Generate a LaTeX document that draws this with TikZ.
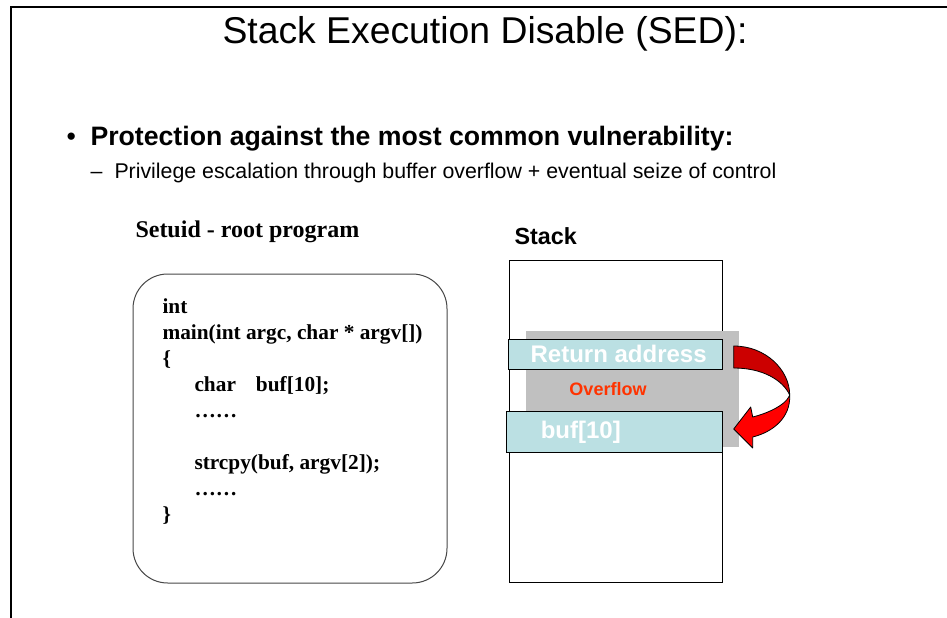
\documentclass[tikz,border=0pt]{standalone}
\usepackage{fontspec}
\setmainfont{Liberation Serif}
\setsansfont{Liberation Sans}
\definecolor{cellteal}{RGB}{187,224,227}
\definecolor{ovgray}{RGB}{192,192,192}
\definecolor{ovred}{RGB}{255,51,0}
\definecolor{arrdark}{RGB}{204,0,0}
\definecolor{arrlight}{RGB}{255,0,0}
\tikzset{every picture/.style={line width=0.75pt}}
\tikzset{
  codeline/.style={anchor=base west, inner sep=0pt, font=\bfseries\fontsize{16}{19}\selectfont},
  cell/.style={draw, fill=cellteal, minimum width=160.5pt, inner sep=0pt, line width=0.6pt},
  celltext/.style={inner sep=0pt, text=white, font=\sffamily\bfseries\fontsize{18}{21}\selectfont},
}

\begin{document}
\begin{tikzpicture}[x=0.75pt,y=0.75pt,yscale=-1,xscale=1]
	\useasboundingbox (0,0) rectangle (947,618);

	%Frame lines
	\draw [line width=1.1pt] (11,618) -- (11,7) -- (947,7) ;

	% Text Node
	\node [anchor=base, inner sep=0, font=\sffamily\fontsize{28}{34}\selectfont] (title) at (485,43) {Stack Execution Disable (SED):};
	% Text Node
	\node [anchor=base west, inner sep=0, font=\sffamily\fontsize{20}{24}\selectfont] (bullet) at (66,145) {\textbullet};
	\node [anchor=base west, inner sep=0, font=\sffamily\bfseries\fontsize{20}{24}\selectfont] (point) at (90,145) {Protection against the most common vulnerability:};
	% Text Node
	\node [anchor=base west, inner sep=0, font=\sffamily\fontsize{16}{19}\selectfont] (dash) at (90,178) {--};
	\node [anchor=base west, inner sep=0, font=\sffamily\fontsize{16}{19}\selectfont] (subpoint) at (114,178) {Privilege escalation through buffer overflow + eventual seize of control};

	% Text Node
	\node [anchor=base west, inner sep=0, font=\bfseries\fontsize{18}{21}\selectfont] (setuid) at (135,237) {Setuid - root program};
	% Text Node
	\node [anchor=base west, inner sep=0, font=\sffamily\bfseries\fontsize{17.5}{21}\selectfont] (stacklbl) at (514,244) {Stack};

	%Shape: Rounded Rect
	\node [draw={rgb, 255:red, 70; green, 70; blue, 70 }, rounded corners=26pt, minimum width=235.5pt, minimum height=231.75pt, inner sep=0] (prog) at (290,428.5) {};
	% Code lines
	\node [codeline] (c1) at (162,313) {int};
	\node [codeline] (c2) at (162,339) {main(int argc, char * argv[])};
	\node [codeline] (c3) at (162,365) {\{};
	\node [codeline] (c4) at (194,391) {char\hspace{15pt}buf[10];};
	\node [codeline] (c5) at (194,417) {\ldots\ldots};
	\node [codeline] (c6) at (194,469) {strcpy(buf, argv[2]);};
	\node [codeline] (c7) at (194,495) {\ldots\ldots};
	\node [codeline] (c8) at (162,521) {\}};

	%Shape: Stack
	\node [draw, minimum width=159.75pt, minimum height=241.5pt, inner sep=0, line width=0.6pt] (stack) at (615.5,421) {};
	%Shape: Overflow area
	\node [fill=ovgray, minimum width=159.75pt, minimum height=87pt, inner sep=0] (ovarea) at (632.5,388.5) {};
	%Shape: Return address
	\node [cell, minimum height=22.5pt, text=white, font=\sffamily\bfseries\fontsize{18}{21}\selectfont] (ret) at (615.3,354) {\hspace{5pt}Return address};
	%Shape: buf
	\node [cell, minimum width=161.7pt, minimum height=31pt] (buf) at (614.5,432) {};
	% Text Node
	\node [celltext, anchor=west] (buftxt) at ([xshift=25.5pt]buf.west) {buf[10]};
	% Text Node
	\node [inner sep=0, text=ovred, font=\sffamily\bfseries\fontsize{13.5}{16}\selectfont] (ovtxt) at (608,389) {Overflow};

	%Curved arrow from return address down to buf
	\begin{scope}[shift={(ret.east)}]
	\draw [fill=arrdark, line width=0.6pt, line join=round] (11,-8) .. controls (43,-8) and (67,16) .. (67,41) .. controls (60,26) and (40,14) .. (11,14) -- cycle ;
	\draw [fill=arrlight, line width=0.6pt, line join=round] (67,41) .. controls (68,64) and (50,78) .. (30,83) -- (30,94) -- (11,75) -- (28,53) -- (30,63) .. controls (46,59) and (62,51) .. (66,43) -- cycle ;
	\end{scope}

\end{tikzpicture}
\end{document}
